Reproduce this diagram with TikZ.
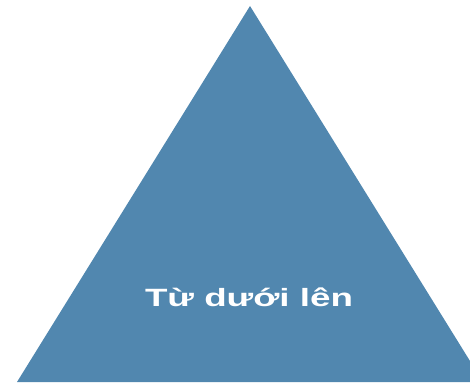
\documentclass[tikz,border=0pt]{standalone}
\usepackage{fontspec}
\setmainfont{Liberation Sans}
\definecolor{triblue}{RGB}{81,135,175}
\begin{document}
\begin{tikzpicture}[x=1pt,y=1pt,
  tri/.style={fill=triblue,draw=none},
  lbl/.style={text=white,font=\bfseries\fontsize{25}{30}\selectfont,anchor=base,inner sep=0pt,xscale=1.47}]
\useasboundingbox (0,0) rectangle (470,384);
\clip (0,0) rectangle (470,384);
\fill[tri] (17,2) -- (250,378) -- (483,2) -- cycle;
\node[lbl] (t) at (249,78) {Từ dưới lên};
\end{tikzpicture}
\end{document}
